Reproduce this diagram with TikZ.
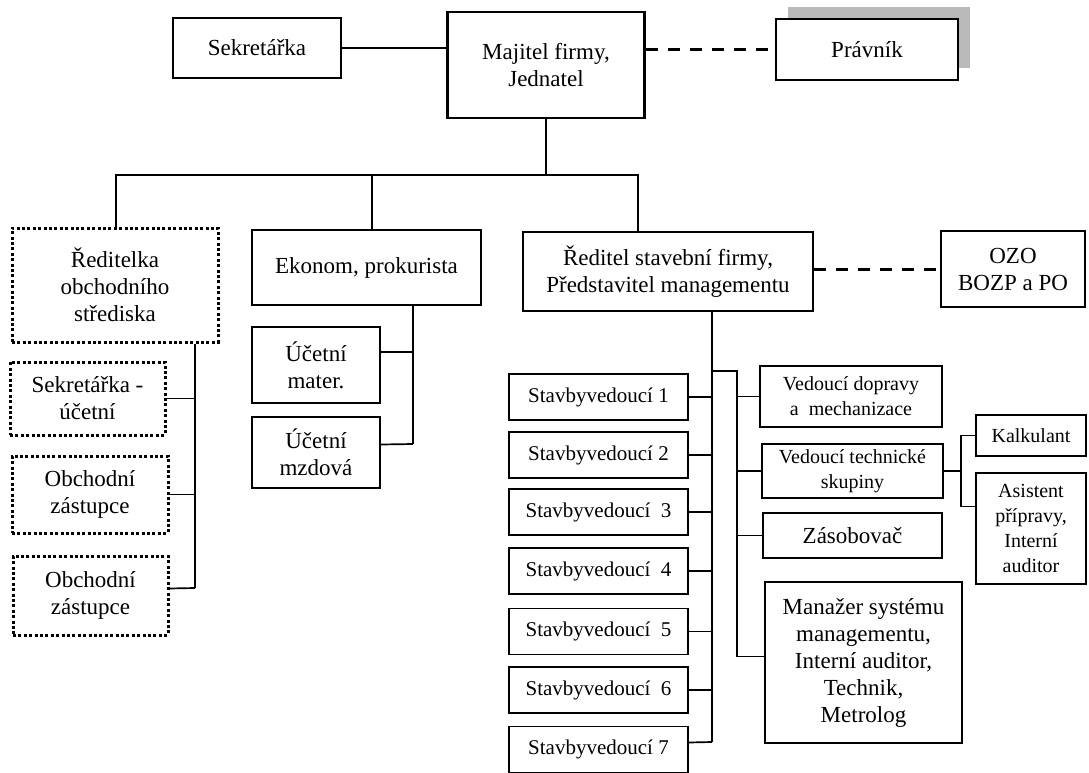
\documentclass[tikz,border=0pt]{standalone}
\usepackage{fontspec}
\setmainfont{Liberation Serif}
\usepackage{tikz}
\usetikzlibrary{shadows}
\newcommand{\bigtext}{\fontsize{23}{27}\selectfont}
\newcommand{\midtext}{\fontsize{21}{25}\selectfont}
\newcommand{\smalltext}{\fontsize{20}{25}\selectfont}

\begin{document}
\begin{tikzpicture}[x=1pt,y=-1pt,
    box/.style={draw,line width=1.7pt,fill=white,inner sep=0pt,align=center,font=\bigtext},
    dotbox/.style={box,line width=3pt,dash pattern=on 3pt off 2.4pt},
    svbox/.style={box,minimum width=179pt,minimum height=46pt,font=\midtext},
    link/.style={line width=1.7pt},
    dashlink/.style={line width=3pt,dash pattern=on 12pt off 10pt}]
  \useasboundingbox (0,0) rectangle (1089,773);

  % owner, secretary, lawyer
  \node[box,minimum width=168pt,minimum height=60pt] (sekr) at (257,48) {Sekretářka};
  \node[box,line width=2.2pt,minimum width=197pt,minimum height=106pt] (majitel) at (546,65) {Majitel firmy,\\Jednatel};
  \node[box,minimum width=182pt,minimum height=61pt,
        drop shadow={shadow xshift=12pt,shadow yshift=12pt,fill=gray!55,opacity=1}] (pravnik) at (867,49.5) {Právník};

  % second level
  \node[dotbox,minimum width=206pt,minimum height=114pt] (reditelka) at (115,285) {Ředitelka\\obchodního\\střediska};
  \node[box,minimum width=229pt,minimum height=75pt] (ekonom) at (366.5,267.5) {Ekonom, prokurista};
  \node[box,minimum width=290pt,minimum height=79pt] (reditel) at (668,271.5) {Ředitel stavební firmy,\\Představitel managementu};
  \node[box,minimum width=144pt,minimum height=76pt] (ozo) at (1013,269) {OZO\\BOZP a PO};

  % business centre
  \node[dotbox,minimum width=155pt,minimum height=73pt] (sekrUct) at (87.5,398.5) {Sekretářka -\\účetní};
  \node[dotbox,minimum width=156pt,minimum height=77pt] (obch1) at (90,494.5) {Obchodní\\zástupce};
  \node[dotbox,minimum width=155pt,minimum height=79pt] (obch2) at (90.5,595.5) {Obchodní\\zástupce};

  % accounting
  \node[box,minimum width=128pt,minimum height=76pt] (mater) at (316,365) {Účetní\\mater.};
  \node[box,minimum width=128pt,minimum height=71pt] (mzdova) at (316,452.5) {Účetní\\mzdová};

  % site managers
  \node[svbox] (sv1) at (598.5,397) {Stavbyvedoucí 1};
  \node[svbox] (sv2) at (598.5,455) {Stavbyvedoucí 2};
  \node[svbox] (sv3) at (598.5,512) {Stavbyvedoucí\ \ 3};
  \node[svbox] (sv4) at (598.5,571) {Stavbyvedoucí\ \ 4};
  \node[svbox] (sv5) at (598.5,631.5) {Stavbyvedoucí\ \ 5};
  \node[svbox] (sv6) at (598.5,690) {Stavbyvedoucí\ \ 6};
  \node[svbox] (sv7) at (598.5,749.5) {Stavbyvedoucí 7};

  % staff of the director
  \node[box,font=\smalltext,minimum width=182pt,minimum height=61pt] (doprava) at (851,396.5) {Vedoucí dopravy\\a\ \ mechanizace};
  \node[box,font=\smalltext,minimum width=181pt,minimum height=54pt] (technicke) at (852.5,471) {Vedoucí technické\\skupiny};
  \node[box,minimum width=179pt,minimum height=45pt] (zasob) at (852.5,535.5) {Zásobovač};
  \node[box,minimum width=197pt,minimum height=161pt] (manazer) at (863.5,662.5) {Manažer systému\\managementu,\\Interní auditor,\\Technik,\\Metrolog};
  \node[box,font=\smalltext,minimum width=110pt,minimum height=41pt] (kalk) at (1031,435.5) {Kalkulant};
  \node[box,font=\smalltext,minimum width=110pt,minimum height=111pt] (asist) at (1031,528.5) {Asistent\\přípravy,\\Interní\\auditor};

  % top lines
  \coordinate (busL) at (116,175);
  \coordinate (busM) at (372,175);
  \coordinate (busR) at (638,175);
  \draw[link] (sekr.east) -- (sekr.east -| majitel.west);
  \draw[dashlink] (majitel.east |- pravnik.west) -- (pravnik.west);
  \draw[link] (majitel.south) -- (majitel.south |- busL);
  \draw[link] (reditelka.north -| busL) -- (busL) -- (busR) -- (reditel.north -| busR);
  \draw[link] (busM) -- (ekonom.north -| busM);
  \draw[dashlink] (reditel.east |- ozo.west) -- (ozo.west);

  % left branch
  \coordinate (lefttrunk) at (195,588);
  \draw[link] (reditelka.south -| lefttrunk) -- (lefttrunk);
  \draw[link] (sekrUct.east) -- (sekrUct.east -| lefttrunk);
  \draw[link] (obch1.east) -- (obch1.east -| lefttrunk);
  \draw[link] ([yshift=7pt]obch2.east) -- (lefttrunk);

  % accountants
  \coordinate (ektrunk) at (413,444);
  \draw[link] (ekonom.south -| ektrunk) -- (ektrunk);
  \draw[link] ([yshift=13pt]mater.east) -- ([yshift=13pt]mater.east -| ektrunk);
  \draw[link] ([yshift=8pt]mzdova.east) -- (ektrunk);

  % director trunk and site managers
  \coordinate (trunk) at (712,742);
  \coordinate (branch) at (737,371);
  \draw[link] (reditel.south -| trunk) -- (trunk);
  \draw[link] (sv1.east) -- (sv1.east -| trunk);
  \draw[link] (sv2.east) -- (sv2.east -| trunk);
  \draw[link] (sv3.east) -- (sv3.east -| trunk);
  \draw[link] (sv4.east) -- (sv4.east -| trunk);
  \draw[link] (sv5.east) -- (sv5.east -| trunk);
  \draw[link] (sv6.east) -- (sv6.east -| trunk);
  \draw[link] ([yshift=7pt]sv7.east) -- (trunk);

  % second branch
  \coordinate (mz) at ([yshift=6pt]manazer.west);
  \draw[link] (trunk |- branch) -- (branch) -- (branch |- mz) -- (mz);
  \draw[link] (doprava.west) -- (doprava.west -| branch);
  \draw[link] (technicke.west) -- (technicke.west -| branch);
  \draw[link] (zasob.west) -- (zasob.west -| branch);

  % technical group
  \coordinate (tk) at (961,435);
  \coordinate (as) at ([yshift=22pt]asist.west);
  \draw[link] (technicke.east) -- (technicke.east -| tk);
  \draw[link] (kalk.west) -- (kalk.west -| tk) -- (tk |- as) -- (as);

\end{tikzpicture}
\end{document}
